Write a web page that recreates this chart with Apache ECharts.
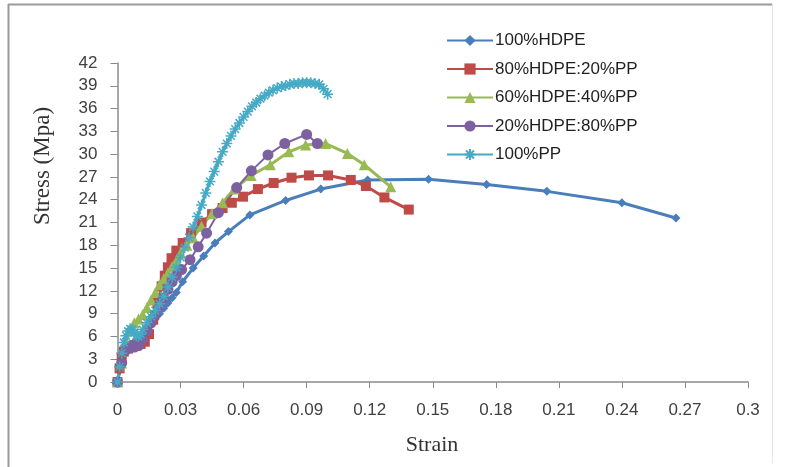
<!DOCTYPE html>
<html>
<head>
<meta charset="utf-8">
<script src="https://cdn.jsdelivr.net/npm/echarts@6/dist/echarts.min.js"></script>
<style>
html,body{margin:0;padding:0;background:#fff;}
#chart{width:799px;height:467px;}
</style>
</head>
<body>
<div id="chart"></div>
<script>
// ---- data ----
var seriesNames = ['100%HDPE', '80%HDPE:20%PP', '60%HDPE:40%PP', '20%HDPE:80%PP', '100%PP'];

var hdpeStrain = [0,0.001,0.002,0.003,0.004,0.006,0.008,0.010,0.012,0.014,0.016,0.018,0.020,0.022,0.024,0.026,0.028,0.031,0.036,0.041,0.0464,0.0528,0.063,0.080,0.0967,0.119,0.148,0.1756,0.2043,0.240,0.2657];
var hdpeStress = [0,1.5,3.0,4.0,4.6,5.0,5.3,5.6,6.2,6.9,7.6,8.3,9.0,9.7,10.4,11.1,11.8,13.2,15.0,16.6,18.3,19.8,22.0,23.9,25.4,26.6,26.7,26.0,25.1,23.6,21.6];

var h80Strain = [0,0.001,0.002,0.003,0.005,0.007,0.009,0.011,0.013,0.015,0.017,0.019,0.021,0.0225,0.024,0.0257,0.028,0.031,0.035,0.040,0.045,0.050,0.0544,0.0597,0.0668,0.0743,0.0828,0.0911,0.1002,0.111,0.1182,0.127,0.1386];
var h80Stress = [0,1.8,3.2,4.0,4.4,4.6,4.8,5.0,5.3,6.3,8.2,10.4,12.6,14.0,15.1,16.3,17.3,18.3,19.6,21.0,22.1,22.9,23.6,24.4,25.4,26.2,26.9,27.2,27.2,26.6,25.8,24.3,22.7];

var h60Strain = [0,0.002,0.004,0.006,0.008,0.010,0.012,0.014,0.016,0.018,0.020,0.022,0.024,0.026,0.028,0.030,0.033,0.036,0.040,0.045,0.050,0.0555,0.0636,0.0727,0.0815,0.0895,0.099,0.1094,0.1174,0.130];
var h60Stress = [0,2.5,5.0,6.8,7.8,8.3,8.9,9.8,10.8,11.8,12.8,13.6,14.4,15.2,16.0,17.0,18.0,19.0,20.5,22.2,23.6,25.4,27.2,28.6,30.3,31.2,31.4,30.1,28.6,25.7];

var h20Strain = [0,0.002,0.004,0.006,0.008,0.010,0.012,0.014,0.016,0.018,0.020,0.022,0.024,0.026,0.028,0.0305,0.0345,0.0384,0.0424,0.048,0.0567,0.0637,0.0716,0.0796,0.090,0.0951];
var h20Stress = [0,2.5,4.2,4.5,4.6,4.8,5.6,6.7,7.8,8.9,10.0,11.1,12.2,13.2,14.0,14.8,16.1,17.8,19.6,22.3,25.6,27.8,29.9,31.4,32.6,31.4];

var ppStrain = [0,0.001,0.002,0.003,0.004,0.005,0.006,0.007,0.008,0.009,0.010,0.011,0.012,0.014,0.016,0.018,0.020,0.022,0.024,0.026,0.028,0.030,0.032,0.034,0.036,0.038,0.040,0.042,0.044,0.046,0.048,0.050,0.052,0.054,0.056,0.058,0.060,0.062,0.064,0.066,0.068,0.070,0.072,0.074,0.076,0.078,0.080,0.082,0.084,0.086,0.088,0.090,0.092,0.094,0.096,0.098,0.100];
var ppStress = [0,2.0,3.8,5.2,6.1,6.7,7.0,6.9,6.5,6.1,6.0,6.3,6.9,7.8,8.6,9.4,10.3,11.3,12.5,13.8,15.1,16.4,17.7,19.0,20.4,21.8,23.3,24.9,26.4,27.7,29.0,30.3,31.4,32.4,33.3,34.1,34.9,35.6,36.3,36.8,37.3,37.7,38.1,38.4,38.7,38.9,39.0,39.2,39.3,39.3,39.4,39.4,39.4,39.3,39.2,38.6,37.9];

var xTickLabels = ['0','0.03','0.06','0.09','0.12','0.15','0.18','0.21','0.24','0.27','0.3'];

// ---- build chart ----
function pairs(xs, ys){ var out=[]; for(var i=0;i<xs.length;i++){ out.push([xs[i], ys[i]]); } return out; }

var colors = ['#4A7EBB','#BE4B48','#98B954','#7D60A0','#46AAC5'];
var asterisk = 'path://M0,5L10,5M5,0L5,10M1.5,1.5L8.5,8.5M8.5,1.5L1.5,8.5';

function mkSeries(idx, xs, ys, symbol, size, lw, extra){
  var s = {
    name: seriesNames[idx], type: 'line', data: pairs(xs, ys),
    symbol: symbol, symbolSize: size, showAllSymbol: true,
    lineStyle: {color: colors[idx], width: lw},
    itemStyle: {color: colors[idx], borderColor: colors[idx], borderWidth: 0},
    emphasis: {disabled: true},
    animation: false
  };
  if (extra) { for (var k in extra) s[k] = extra[k]; }
  return s;
}

var chart = echarts.init(document.getElementById('chart'), null, {renderer: 'canvas'});
var axisFont = 'Liberation Sans';
chart.setOption({
  animation: false,
  backgroundColor: '#ffffff',
  grid: {left: 117.5, right: 51, top: 63, bottom: 85, containLabel: false},
  xAxis: {
    type: 'value', min: 0, max: 0.3, interval: 0.03,
    axisLine: {show: true, lineStyle: {color: '#8a8a8a', width: 1.5}},
    axisTick: {show: true, inside: false, length: 6, lineStyle: {color: '#8a8a8a'}},
    splitLine: {show: false},
    axisLabel: {
      margin: 20, color: '#404040', fontSize: 17, fontFamily: axisFont,
      formatter: function(v){ var i = Math.round(v/0.03); return xTickLabels[i]; }
    }
  },
  yAxis: {
    type: 'value', min: 0, max: 42, interval: 3,
    axisLine: {show: true, lineStyle: {color: '#8a8a8a', width: 1.5}},
    axisTick: {show: true, inside: false, length: 7, lineStyle: {color: '#8a8a8a'}},
    splitLine: {show: false},
    axisLabel: {margin: 20, color: '#404040', fontSize: 17, fontFamily: axisFont}
  },
  legend: {
    orient: 'vertical', left: 441, top: 27,
    itemWidth: 46, itemHeight: 14, itemGap: 11.5,
    textStyle: {fontSize: 17, color: '#1f1f1f', fontFamily: axisFont, padding: [0,0,0,-3]},
    data: seriesNames
  },
  graphic: [
    {type: 'line', shape: {x1: 8.5, y1: 4, x2: 8.5, y2: 467}, style: {stroke: '#9a9a9a', lineWidth: 2}, silent: true},
    {type: 'line', shape: {x1: 8, y1: 4.5, x2: 772, y2: 4.5}, style: {stroke: '#9a9a9a', lineWidth: 2}, silent: true},
    {type: 'line', shape: {x1: 772.5, y1: 4, x2: 772.5, y2: 463}, style: {stroke: '#e6e6e6', lineWidth: 1}, silent: true},
    {type: 'text', x: 43, y: 166, rotation: Math.PI/2,
      style: {text: 'Stress (Mpa)', font: '23px "Liberation Serif"', fill: '#333333', align: 'center', verticalAlign: 'middle'}, silent: true},
    {type: 'text', x: 432, y: 445,
      style: {text: 'Strain', font: '22px "Liberation Serif"', fill: '#333333', align: 'center', verticalAlign: 'middle'}, silent: true}
  ],
  series: [
    mkSeries(0, hdpeStrain, hdpeStress, 'diamond', 9, 3),
    mkSeries(1, h80Strain, h80Stress, 'rect', 10, 3),
    mkSeries(2, h60Strain, h60Stress, 'triangle', 11, 3),
    mkSeries(3, h20Strain, h20Stress, 'circle', 11, 2),
    mkSeries(4, ppStrain, ppStress, asterisk, 11, 3, {itemStyle: {color: colors[4], borderColor: colors[4], borderWidth: 1.5}})
  ]
});
</script>
</body>
</html>
